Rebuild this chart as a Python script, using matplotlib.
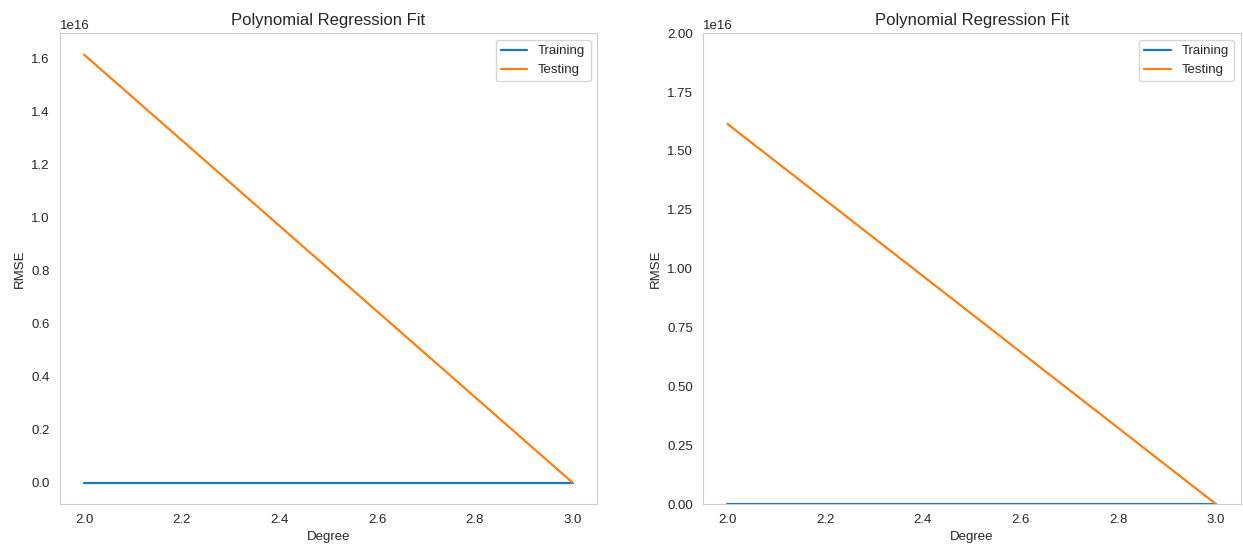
import matplotlib
matplotlib.use('Agg')
import matplotlib.pyplot as plt
import seaborn as sns
import numpy as np

# RMSE per polynomial degree
degrees = [2, 3]
train_rmse = [0.0, 0.0]
test_rmse = [1.615e16, 0.0]

sns.set_style('whitegrid')
plt.rcParams['font.family'] = ['Liberation Sans', 'DejaVu Sans']

fig, axes = plt.subplots(1, 2, figsize=(12.43, 5.45), dpi=100)
fig.subplots_adjust(left=0.048, right=0.998, top=0.939, bottom=0.075, wspace=0.197)

for i, ax in enumerate(axes):
    ax.plot(degrees, train_rmse, label='Training', color='#1f77b4', linewidth=1.6)
    ax.plot(degrees, test_rmse, label='Testing', color='#ff7f0e', linewidth=1.6)
    ax.set_title('Polynomial Regression Fit', fontsize=12)
    ax.set_xlabel('Degree', fontsize=9.5, labelpad=3.5)
    ax.set_ylabel('RMSE', fontsize=9.5)
    ax.tick_params(labelsize=9.5)
    ax.yaxis.get_offset_text().set_fontsize(9.5)
    ax.legend(fontsize=9.5)
    ax.grid(False)
    if i == 1:
        ax.set_ylim(0, 2e16)

fig.savefig('out.png')
